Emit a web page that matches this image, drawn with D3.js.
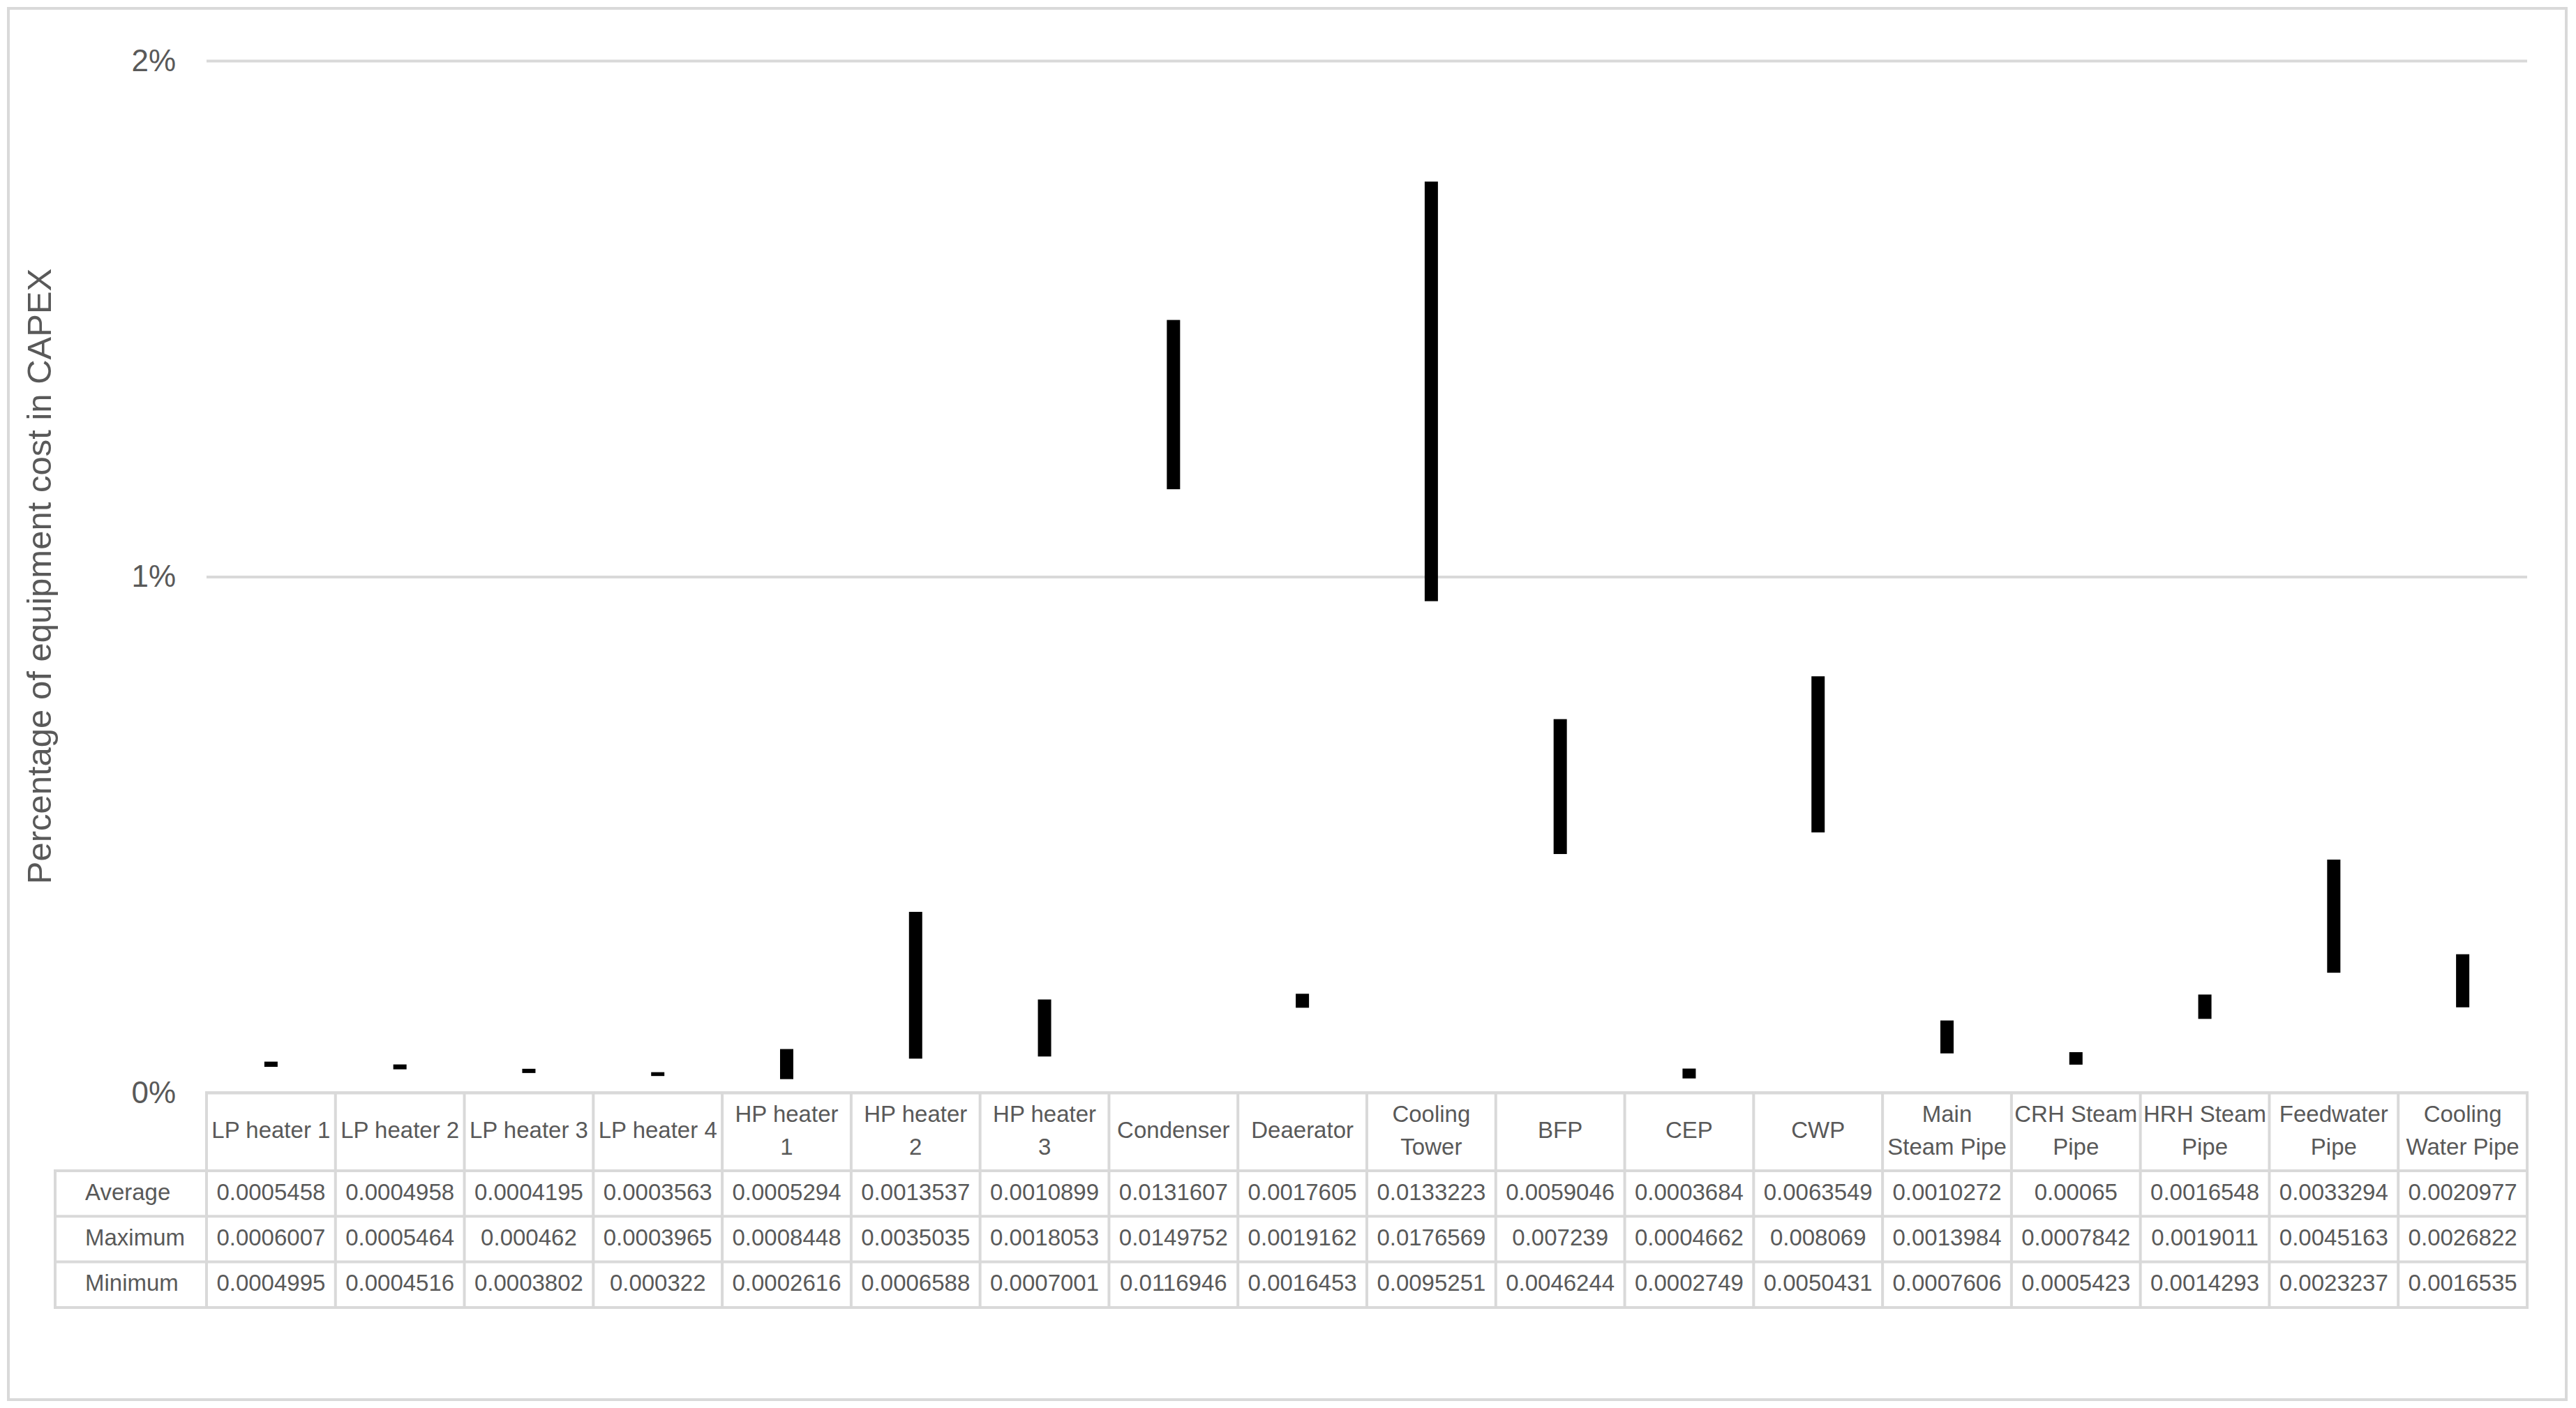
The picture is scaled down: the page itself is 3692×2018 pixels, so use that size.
<!DOCTYPE html>
<html>
<head>
<meta charset="utf-8">
<script src="https://cdn.jsdelivr.net/npm/d3@7"></script>
<style>
  body { margin: 0; background: #fff; }
  text { font-family: "Liberation Sans", Arial, sans-serif; fill: #595959; }
</style>
</head>
<body>
<svg id="chart"></svg>
<script>
// header names, "\n" marks where the table cell wraps
var categories = ["LP heater 1", "LP heater 2", "LP heater 3", "LP heater 4",
  "HP heater\n1", "HP heater\n2", "HP heater\n3", "Condenser", "Deaerator",
  "Cooling\nTower", "BFP", "CEP", "CWP", "Main\nSteam Pipe", "CRH Steam\nPipe",
  "HRH Steam\nPipe", "Feedwater\nPipe", "Cooling\nWater Pipe"];

var average = [0.0005458, 0.0004958, 0.0004195, 0.0003563, 0.0005294, 0.0013537,
  0.0010899, 0.0131607, 0.0017605, 0.0133223, 0.0059046, 0.0003684, 0.0063549,
  0.0010272, 0.00065, 0.0016548, 0.0033294, 0.0020977];
var maximum = [0.0006007, 0.0005464, 0.000462, 0.0003965, 0.0008448, 0.0035035,
  0.0018053, 0.0149752, 0.0019162, 0.0176569, 0.007239, 0.0004662, 0.008069,
  0.0013984, 0.0007842, 0.0019011, 0.0045163, 0.0026822];
var minimum = [0.0004995, 0.0004516, 0.0003802, 0.000322, 0.0002616, 0.0006588,
  0.0007001, 0.0116946, 0.0016453, 0.0095251, 0.0046244, 0.0002749, 0.0050431,
  0.0007606, 0.0005423, 0.0014293, 0.0023237, 0.0016535];

var rowNames = ["Average", "Maximum", "Minimum"];
var yTicks = [0, 0.01, 0.02];
var yTitle = "Percentage of equipment cost in CAPEX";

var width = 3692, height = 2018;
var grey = "#d9d9d9";

let svg = d3.select("#chart")
  .attr("width", width)
  .attr("height", height);

// outer chart border
svg.append("rect")
  .attr("x", 12).attr("y", 12)
  .attr("width", width - 14 - 12).attr("height", height - 12 - 12)
  .attr("fill", "#fff")
  .attr("stroke", grey)
  .attr("stroke-width", 4);

let x = d3.scaleBand()
  .domain(categories)
  .range([296, 3622]);

let y = d3.scaleLinear()
  .domain([0, 0.02])
  .range([1566, 87]);

// gridlines + tick labels
let yAxis = svg.append("g")
  .attr("transform", "translate(296,0)")
  .call(d3.axisLeft(y)
    .tickValues(yTicks)
    .tickFormat(d3.format(".0%"))
    .tickSizeInner(-(3622 - 296))
    .tickSizeOuter(0)
    .tickPadding(44));
yAxis.select(".domain").remove();
yAxis.selectAll("line").attr("stroke", grey).attr("stroke-width", 4);
yAxis.selectAll("text")
  .attr("fill", "#595959")
  .style("font-size", "44px");

svg.append("text")
  .attr("transform", "translate(73,826) rotate(-90)")
  .attr("text-anchor", "middle")
  .style("font-size", "49px")
  .text(yTitle);

// min-max bars
let rows = categories.map((c, i) => ({ cat: c, avg: average[i], max: maximum[i], min: minimum[i] }));

svg.selectAll("rect.bar")
  .data(rows)
  .enter()
  .append("rect")
  .attr("class", "bar")
  .attr("x", d => x(d.cat) + x.bandwidth() / 2 - 9.5)
  .attr("width", 19)
  .attr("y", d => y(d.max))
  .attr("height", d => y(d.min) - y(d.max))
  .attr("fill", "#000");

// data table
let headTop = y(0), headBottom = 1678, rowH = 65.3;
let tableRight = x.range()[1], labelLeft = 79;
let table = svg.append("g")
  .attr("stroke", grey)
  .attr("stroke-width", 4)
  .attr("stroke-linecap", "square");

table.append("line")
  .attr("x1", x.range()[0]).attr("x2", tableRight)
  .attr("y1", headTop).attr("y2", headTop);

for (let r = 0; r <= rowNames.length; r++) {
  let yy = headBottom + r * rowH;
  table.append("line")
    .attr("x1", labelLeft).attr("x2", tableRight)
    .attr("y1", yy).attr("y2", yy);
}
let tableBottom = headBottom + rowNames.length * rowH;

table.append("line")
  .attr("x1", labelLeft).attr("x2", labelLeft)
  .attr("y1", headBottom).attr("y2", tableBottom);

let edges = categories.map(c => x(c)).concat([tableRight]);
table.selectAll("line.col")
  .data(edges)
  .enter()
  .append("line")
  .attr("class", "col")
  .attr("x1", d => d).attr("x2", d => d)
  .attr("y1", headTop).attr("y2", tableBottom);

// header labels
let headMid = (headTop + headBottom) / 2;
let heads = svg.selectAll("text.head")
  .data(categories)
  .enter()
  .append("text")
  .attr("class", "head")
  .attr("text-anchor", "middle")
  .style("font-size", "33px");

heads.each(function(d) {
  let lines = d.split("\n");
  let first = headMid + 9 - (lines.length - 1) * 47 / 2;
  d3.select(this).selectAll("tspan")
    .data(lines)
    .enter()
    .append("tspan")
    .attr("x", x(d) + x.bandwidth() / 2)
    .attr("y", (l, k) => first + k * 47)
    .text(l => l);
});

// row labels and values
let series = [average, maximum, minimum];
rowNames.forEach((name, r) => {
  let base = headBottom + r * rowH + rowH / 2 + 9;
  svg.append("text")
    .attr("x", 122)
    .attr("y", base)
    .style("font-size", "33px")
    .text(name);

  svg.selectAll("text.v" + r)
    .data(series[r])
    .enter()
    .append("text")
    .attr("class", "v" + r)
    .attr("x", (v, i) => x(categories[i]) + x.bandwidth() / 2)
    .attr("y", base)
    .attr("text-anchor", "middle")
    .style("font-size", "33px")
    .text(v => String(v));
});
</script>
</body>
</html>
